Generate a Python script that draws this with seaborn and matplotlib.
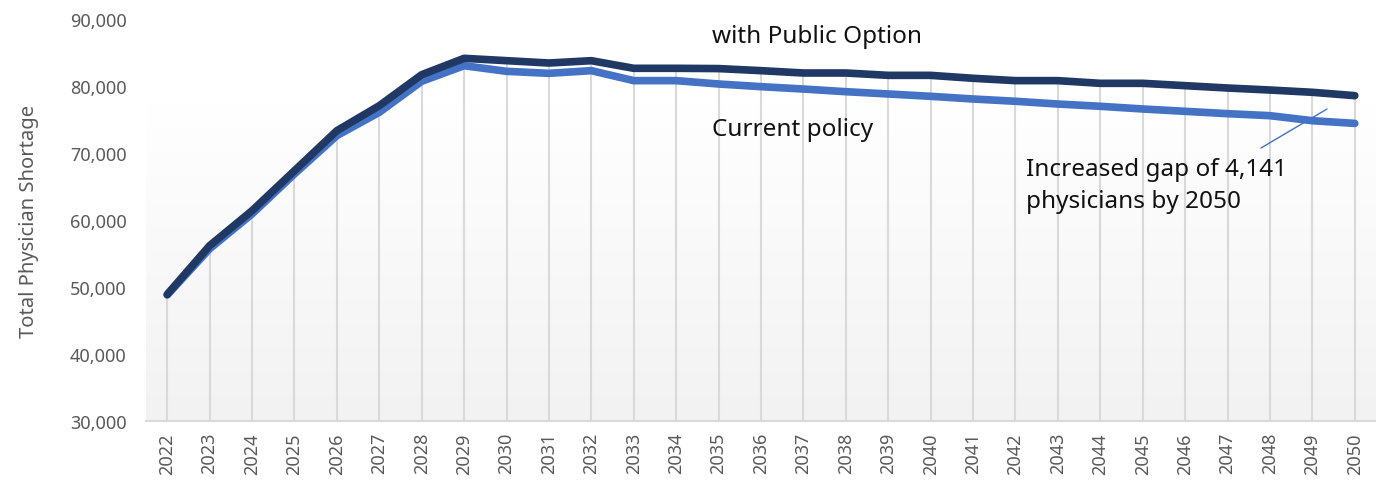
import numpy as np
import pandas as pd
import matplotlib
matplotlib.use("Agg")
import matplotlib.pyplot as plt
import seaborn as sns

years = list(range(2022, 2051))
public_option = [48900, 56170, 61390, 67360, 73330, 77060, 81690, 84130, 83780, 83430,
                 83780, 82640, 82640, 82600, 82290, 81940, 81940, 81590, 81590, 81150,
                 80800, 80800, 80400, 80400, 80050, 79700, 79400, 79060, 78560]
current_policy = [48800, 55700, 60900, 66870, 72590, 76070, 80700, 83030, 82190, 81890,
                  82290, 80800, 80800, 80300, 79900, 79550, 79150, 78810, 78460, 78060,
                  77720, 77310, 76970, 76570, 76220, 75870, 75570, 74820, 74419]
series_names = ["Current policy", "with Public Option"]
y_ticks = [30000, 40000, 50000, 60000, 70000, 80000, 90000]

DARK = "#203864"
LIGHT = "#4472C4"
GRID = "#d9d9d9"
TICK = "#595959"

sns.set_style("white")
plt.rcParams["font.family"] = ["Noto Sans", "DejaVu Sans"]

df = pd.DataFrame({
    "idx": list(range(len(years))) * 2,
    "value": current_policy + public_option,
    "series": [series_names[0]] * len(years) + [series_names[1]] * len(years),
})

fig = plt.figure(figsize=(13.76, 4.85), dpi=100)
ax = fig.add_axes([146 / 1376, 1 - 422 / 485, 1 - 146 / 1376, (422 - 20) / 485])

n = len(years)
ax.set_xlim(-0.5, n - 0.5)
ax.set_ylim(30000, 90000)

# background gradient
grad = np.linspace(0, 1, 256).reshape(-1, 1)
cmap = matplotlib.colors.LinearSegmentedColormap.from_list("g", ["#f2f2f2", "#ffffff"])
ax.imshow(grad, extent=(-0.5, n - 0.5, 30000, 77300), origin="lower", aspect="auto",
          cmap=cmap, zorder=0)

# drop lines
ax.vlines(range(n), 30000, public_option, color=GRID, lw=1.5, zorder=1)

sns.lineplot(data=df, x="idx", y="value", hue="series",
             palette={series_names[0]: LIGHT, series_names[1]: DARK},
             linewidth=5.5, ax=ax, legend=False, zorder=3)
for ln in ax.lines:
    ln.set_solid_capstyle("round")
    ln.set_solid_joinstyle("round")

ax.set_xticks(range(n))
ax.set_xticklabels([str(y) for y in years], rotation=90, fontsize=13, color=TICK)
ax.set_yticks(y_ticks)
ax.set_yticklabels([f"{v:,}" for v in y_ticks], fontsize=13, color=TICK)
ax.tick_params(axis="both", length=0, pad=8)
ax.tick_params(axis="y", pad=14)
ax.set_xlabel("")
ax.set_ylabel("Total Physician Shortage", fontsize=14.5, color=TICK, labelpad=22)

for s in ["top", "right", "left"]:
    ax.spines[s].set_visible(False)
ax.spines["bottom"].set_color(GRID)
ax.spines["bottom"].set_linewidth(1.5)

def px2data(x, y):
    return ax.transData.inverted().transform(fig.transFigure.transform((x / 1376, 1 - y / 485)))

x0, y0 = px2data(712, 37)
ax.text(x0, y0, "with Public Option", fontsize=17.5, color="#111111", va="center", ha="left")
x0, y0 = px2data(712, 130)
ax.text(x0, y0, "Current policy", fontsize=17.5, color="#111111", va="center", ha="left")
x0, y0 = px2data(1026, 186)
ax.text(x0, y0, "Increased gap of 4,141\nphysicians by 2050", fontsize=17.5, color="#111111",
        va="center", ha="left", linespacing=1.4)
a = px2data(1261, 149)
b = px2data(1327, 110)
ax.plot([a[0], b[0]], [a[1], b[1]], color=LIGHT, lw=1, zorder=4)

fig.savefig("out.png", dpi=100)
